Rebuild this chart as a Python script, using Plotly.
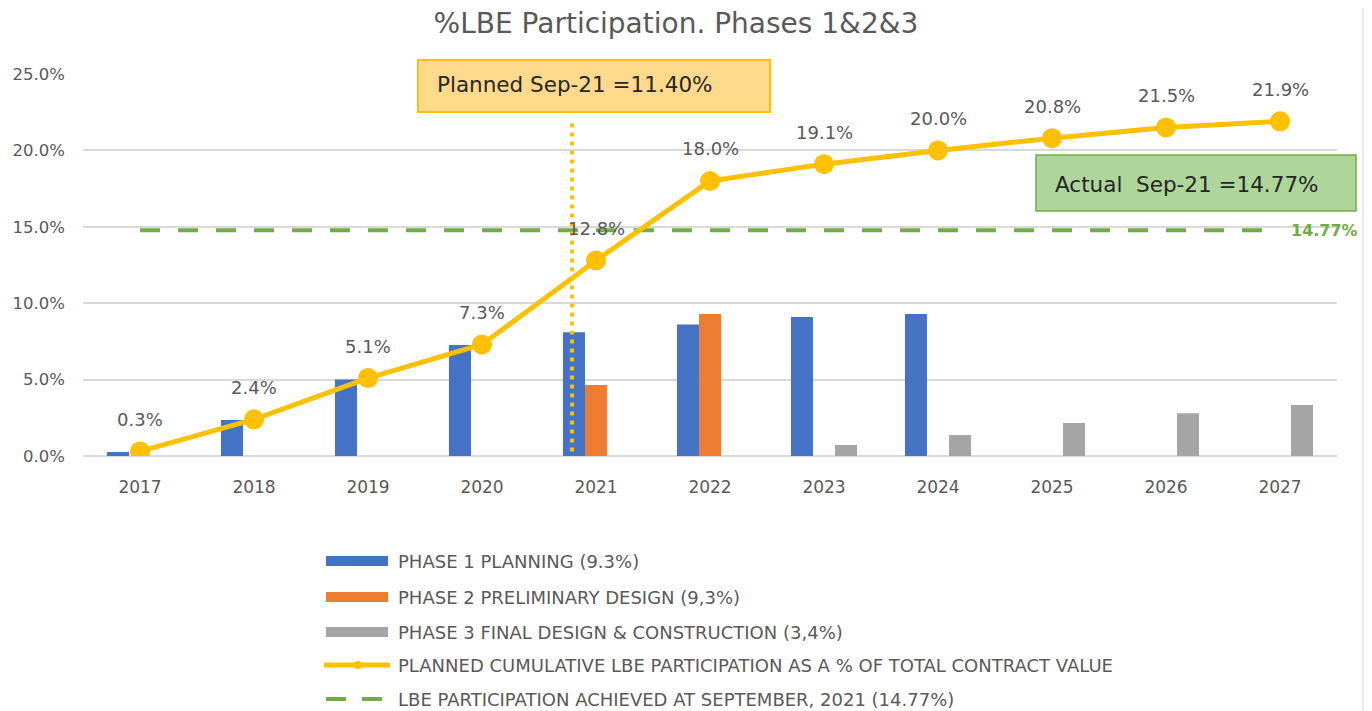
import plotly.graph_objects as go

years = ["2017", "2018", "2019", "2020", "2021", "2022", "2023", "2024", "2025", "2026", "2027"]
phase1 = [0.0026, 0.0236, 0.050, 0.0726, 0.081, 0.086, 0.091, 0.093, None, None, None]
phase2 = [None, None, None, None, 0.0465, 0.093, None, None, None, None, None]
phase3 = [None, None, None, None, None, None, 0.0072, 0.0137, 0.0216, 0.028, 0.0334]
planned = [0.003, 0.024, 0.051, 0.073, 0.128, 0.180, 0.191, 0.200, 0.208, 0.215, 0.219]
achieved_value = 0.1477
achieved = [achieved_value] * len(years)

names = [
    "PHASE 1 PLANNING (9.3%)",
    "PHASE 2 PRELIMINARY DESIGN (9,3%)",
    "PHASE 3 FINAL DESIGN & CONSTRUCTION (3,4%)",
    "PLANNED CUMULATIVE LBE PARTICIPATION AS A % OF TOTAL CONTRACT VALUE",
    "LBE PARTICIPATION ACHIEVED AT SEPTEMBER, 2021 (14.77%)",
]
title_text = "%LBE Participation. Phases 1&2&3"
planned_box_text = "Planned Sep-21 =11.40%"
actual_box_text = "Actual  Sep-21 =14.77%"
sep21_position = 3.79  # category index of Sep-21

BLUE = "#4472C4"
ORANGE = "#ED7D31"
GRAY = "#A5A5A5"
YELLOW = "#FFC000"
GREEN = "#70AD47"
TXT = "#595959"
FONT = "DejaVu Sans, Open Sans, sans-serif"

xi = list(range(len(years)))

fig = go.Figure()
fig.add_trace(go.Bar(x=xi, y=phase1, name=names[0], marker=dict(color=BLUE, line=dict(width=0))))
fig.add_trace(go.Bar(x=xi, y=phase2, name=names[1], marker=dict(color=ORANGE, line=dict(width=0))))
fig.add_trace(go.Bar(x=xi, y=phase3, name=names[2], marker=dict(color=GRAY, line=dict(width=0))))
fig.add_trace(go.Scatter(x=xi, y=achieved, name=names[4], mode="lines",
                         line=dict(color=GREEN, width=4, dash="20px,18px")))
fig.add_trace(go.Scatter(x=xi, y=planned, name=names[3], mode="lines+markers",
                         line=dict(color=YELLOW, width=5),
                         marker=dict(color=YELLOW, size=20)))

# data labels for planned line
for i, v in zip(xi, planned):
    fig.add_annotation(x=i, y=v, text=f"{v*100:.1f}%", showarrow=False, yshift=32,
                       font=dict(family=FONT, size=18, color=TXT))
# label for achieved line
fig.add_annotation(x=xi[-1], y=achieved_value, text=f"<b>{achieved_value*100:.2f}%</b>",
                   showarrow=False, xanchor="left", xshift=9,
                   font=dict(family=FONT, size=16, color=GREEN))

# vertical dotted Sep-21 line
fig.add_shape(type="line", xref="x", yref="y", x0=sep21_position, x1=sep21_position,
              y0=0.003, y1=0.22, line=dict(color=YELLOW, width=4, dash="4px,5px"))

# page body has an 8px margin; figure coordinates are the reference's minus OFF
OFF = 8
W, H = 1372 - OFF, 711 - OFF
L, R, T, B = 83 - OFF, 35, 74 - OFF, 255
PW, PH = W - L - R, H - T - B


def px(x):
    return (x - OFF - L) / PW


def py(y):
    return (H - B - (y - OFF)) / PH


# Planned box
fig.add_shape(type="rect", xref="paper", yref="paper", x0=px(418), x1=px(770), y0=py(112), y1=py(60),
              fillcolor="#FFD98C", line=dict(color=YELLOW, width=2), layer="above")
fig.add_annotation(xref="paper", yref="paper", x=px(435), y=py(85), text=planned_box_text,
                   showarrow=False, xanchor="left", yanchor="middle",
                   font=dict(family=FONT, size=21.5, color="#262626"))
# Actual box
fig.add_shape(type="rect", xref="paper", yref="paper", x0=px(1036), x1=px(1356), y0=py(211), y1=py(155),
              fillcolor="#AED59A", line=dict(color=GREEN, width=1.5), layer="above")
fig.add_annotation(xref="paper", yref="paper", x=px(1053), y=py(184), text=actual_box_text,
                   showarrow=False, xanchor="left", yanchor="middle",
                   font=dict(family=FONT, size=21.5, color="#262626"))

# right frame line
fig.add_shape(type="line", xref="paper", yref="paper", x0=px(1363), x1=px(1363), y0=py(OFF), y1=py(711),
              line=dict(color="#D9D9D9", width=1))

# manual legend
rows = [561, 597, 632, 665, 699]
sym_x0, sym_x1, text_x = 326, 388, 396
for i, col in enumerate([BLUE, ORANGE, GRAY]):
    fig.add_shape(type="rect", xref="paper", yref="paper", x0=px(sym_x0), x1=px(sym_x1),
                  y0=py(rows[i] + 5), y1=py(rows[i] - 5), fillcolor=col, line=dict(width=0))
fig.add_shape(type="line", xref="paper", yref="paper", x0=px(sym_x0 - 2), x1=px(sym_x1 + 2),
              y0=py(rows[3]), y1=py(rows[3]), line=dict(color=YELLOW, width=5))
fig.add_shape(type="circle", xref="paper", yref="paper", x0=px(354), x1=px(362),
              y0=py(rows[3] + 4), y1=py(rows[3] - 4), fillcolor=YELLOW, line=dict(width=0))
for a, b in [(326, 346), (362, 382)]:
    fig.add_shape(type="line", xref="paper", yref="paper", x0=px(a), x1=px(b),
                  y0=py(rows[4]), y1=py(rows[4]), line=dict(color=GREEN, width=4))
for r, nm in zip(rows, names):
    fig.add_annotation(xref="paper", yref="paper", x=px(text_x), y=py(r), text=nm,
                       showarrow=False, xanchor="left", yanchor="middle",
                       font=dict(family=FONT, size=18, color=TXT))

fig.update_layout(
    width=W, height=H,
    margin=dict(l=L, r=R, t=T, b=B),
    paper_bgcolor="white", plot_bgcolor="white",
    barmode="group", bargap=0.42, bargroupgap=0,
    showlegend=False,
    title=dict(text=title_text, x=(676 - OFF) / W, xanchor="center", y=1 - (23 - OFF) / H, yanchor="middle",
               font=dict(family=FONT, size=28, color=TXT)),
    font=dict(family=FONT, color=TXT),
)
fig.update_xaxes(range=[-0.5, len(years) - 0.5], tickvals=xi, ticktext=years, automargin=False,
                 showgrid=False, zeroline=False, showline=False, ticks="",
                 tickfont=dict(family=FONT, size=17, color=TXT), ticklabelstandoff=19)
fig.update_yaxes(range=[0, 0.25], tickvals=[0, 0.05, 0.10, 0.15, 0.20, 0.25], tickformat=".1%",
                 automargin=False,
                 showgrid=True, gridcolor="#D9D9D9", gridwidth=1.5, zeroline=True, zerolinecolor="#D9D9D9",
                 zerolinewidth=1.5, showline=False, ticks="",
                 tickfont=dict(family=FONT, size=16.5, color=TXT), ticklabelstandoff=17)

fig.write_html("out.html")
